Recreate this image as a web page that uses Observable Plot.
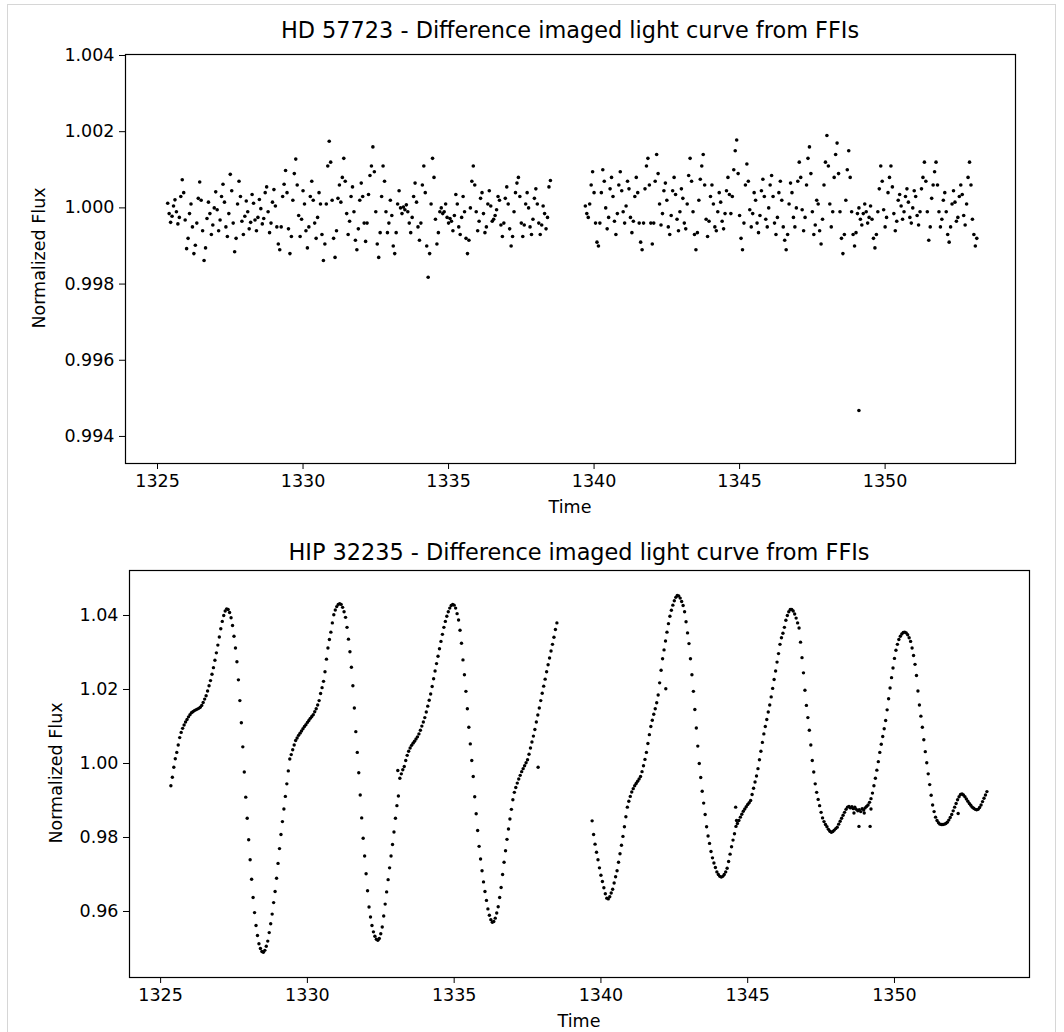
<!DOCTYPE html>
<html>
<head>
<meta charset="utf-8">
<script src="https://cdn.jsdelivr.net/npm/d3@7"></script>
<script src="https://cdn.jsdelivr.net/npm/@observablehq/plot@0.6"></script>
<style>
  body { margin: 0; background: #fff; }
  #wrap { position: relative; width: 1064px; height: 1032px; overflow: hidden; font-family: "DejaVu Sans", sans-serif; color: #000; background: #fff; }
  .border { position: absolute; left: 7px; top: 4px; width: 1049px; height: 1100px; border: 1px solid #d6d6d6; box-sizing: border-box; }
  .panel { position: absolute; left: 0; }
  .txt { position: absolute; white-space: nowrap; transform: translate(-50%, -50%); line-height: 1; }
  .title { font-size: 22.4px; }
  .lab { font-size: 17.5px; }
  .ylab { font-size: 17.5px; transform: translate(-50%, -50%) rotate(-90deg); }
</style>
</head>
<body>
<div id="wrap"><div class="border"></div></div>
<script>
// ---------------- DATA ----------------
const titles = ["HD 57723 - Difference imaged light curve from FFIs", "HIP 32235 - Difference imaged light curve from FFIs"];
const xLabel = "Time";
const yLabel = "Normalized Flux";
const xTicks = [1325, 1330, 1335, 1340, 1345, 1350];
const hdYTicks = [0.994, 0.996, 0.998, 1.000, 1.002, 1.004];
const hipYTicks = [0.96, 0.98, 1.00, 1.02, 1.04];

// FFI time stamps (sampled), orbit 1 and orbit 2
const time1 = [
1325.35,1325.40,1325.45,1325.50,1325.55,1325.60,1325.65,1325.70,1325.75,1325.80,1325.85,1325.90,1325.95,1326.00,1326.05,1326.10,1326.15,1326.20,1326.25,1326.30,
1326.35,1326.40,1326.45,1326.50,1326.55,1326.60,1326.65,1326.70,1326.75,1326.80,1326.85,1326.90,1326.95,1327.00,1327.05,1327.10,1327.15,1327.20,1327.25,1327.30,
1327.35,1327.40,1327.45,1327.50,1327.55,1327.60,1327.65,1327.70,1327.75,1327.80,1327.85,1327.90,1327.95,1328.00,1328.05,1328.10,1328.15,1328.20,1328.25,1328.30,
1328.35,1328.40,1328.45,1328.50,1328.55,1328.60,1328.65,1328.70,1328.75,1328.80,1328.85,1328.90,1328.95,1329.00,1329.05,1329.10,1329.15,1329.20,1329.25,1329.30,
1329.35,1329.40,1329.45,1329.50,1329.55,1329.60,1329.65,1329.70,1329.75,1329.80,1329.85,1329.90,1329.95,1330.00,1330.05,1330.10,1330.15,1330.20,1330.25,1330.30,
1330.35,1330.40,1330.45,1330.50,1330.55,1330.60,1330.65,1330.70,1330.75,1330.80,1330.85,1330.90,1330.95,1331.00,1331.05,1331.10,1331.15,1331.20,1331.25,1331.30,
1331.35,1331.40,1331.45,1331.50,1331.55,1331.60,1331.65,1331.70,1331.75,1331.80,1331.85,1331.90,1331.95,1332.00,1332.05,1332.10,1332.15,1332.20,1332.25,1332.30,
1332.35,1332.40,1332.45,1332.50,1332.55,1332.60,1332.65,1332.70,1332.75,1332.80,1332.85,1332.90,1332.95,1333.00,1333.05,1333.10,1333.15,1333.20,1333.25,1333.30,
1333.35,1333.40,1333.45,1333.50,1333.55,1333.60,1333.65,1333.70,1333.75,1333.80,1333.85,1333.90,1333.95,1334.00,1334.05,1334.10,1334.15,1334.20,1334.25,1334.30,
1334.35,1334.40,1334.45,1334.50,1334.55,1334.60,1334.65,1334.70,1334.75,1334.80,1334.85,1334.90,1334.95,1335.00,1335.05,1335.10,1335.15,1335.20,1335.25,1335.30,
1335.35,1335.40,1335.45,1335.50,1335.55,1335.60,1335.65,1335.70,1335.75,1335.80,1335.85,1335.90,1335.95,1336.00,1336.05,1336.10,1336.15,1336.20,1336.25,1336.30,
1336.35,1336.40,1336.45,1336.50,1336.55,1336.60,1336.65,1336.70,1336.75,1336.80,1336.85,1336.90,1336.95,1337.00,1337.05,1337.10,1337.15,1337.20,1337.25,1337.30,
1337.35,1337.40,1337.45,1337.50,1337.55,1337.60,1337.65,1337.70,1337.75,1337.80,1337.85,1337.90,1337.95,1338.00,1338.05,1338.10,1338.15,1338.20,1338.25,1338.30,
1338.35,1338.40,1338.45,1338.50
];
const time2 = [
1339.70,1339.75,1339.80,1339.85,1339.90,1339.95,1340.00,1340.05,1340.10,1340.15,1340.20,1340.25,1340.30,1340.35,1340.40,1340.45,1340.50,1340.55,1340.60,1340.65,
1340.70,1340.75,1340.80,1340.85,1340.90,1340.95,1341.00,1341.05,1341.10,1341.15,1341.20,1341.25,1341.30,1341.35,1341.40,1341.45,1341.50,1341.55,1341.60,1341.65,
1341.70,1341.75,1341.80,1341.85,1341.90,1341.95,1342.00,1342.05,1342.10,1342.15,1342.20,1342.25,1342.30,1342.35,1342.40,1342.45,1342.50,1342.55,1342.60,1342.65,
1342.70,1342.75,1342.80,1342.85,1342.90,1342.95,1343.00,1343.05,1343.10,1343.15,1343.20,1343.25,1343.30,1343.35,1343.40,1343.45,1343.50,1343.55,1343.60,1343.65,
1343.70,1343.75,1343.80,1343.85,1343.90,1343.95,1344.00,1344.05,1344.10,1344.15,1344.20,1344.25,1344.30,1344.35,1344.40,1344.45,1344.50,1344.55,1344.60,1344.65,
1344.70,1344.75,1344.80,1344.85,1344.90,1344.95,1345.00,1345.05,1345.10,1345.15,1345.20,1345.25,1345.30,1345.35,1345.40,1345.45,1345.50,1345.55,1345.60,1345.65,
1345.70,1345.75,1345.80,1345.85,1345.90,1345.95,1346.00,1346.05,1346.10,1346.15,1346.20,1346.25,1346.30,1346.35,1346.40,1346.45,1346.50,1346.55,1346.60,1346.65,
1346.70,1346.75,1346.80,1346.85,1346.90,1346.95,1347.00,1347.05,1347.10,1347.15,1347.20,1347.25,1347.30,1347.35,1347.40,1347.45,1347.50,1347.55,1347.60,1347.65,
1347.70,1347.75,1347.80,1347.85,1347.90,1347.95,1348.00,1348.05,1348.10,1348.15,1348.20,1348.25,1348.30,1348.35,1348.40,1348.45,1348.50,1348.55,1348.60,1348.65,
1348.70,1348.75,1348.80,1348.85,1348.90,1348.95,1349.00,1349.05,1349.10,1349.15,1349.20,1349.25,1349.30,1349.35,1349.40,1349.45,1349.50,1349.55,1349.60,1349.65,
1349.70,1349.75,1349.80,1349.85,1349.90,1349.95,1350.00,1350.05,1350.10,1350.15,1350.20,1350.25,1350.30,1350.35,1350.40,1350.45,1350.50,1350.55,1350.60,1350.65,
1350.70,1350.75,1350.80,1350.85,1350.90,1350.95,1351.00,1351.05,1351.10,1351.15,1351.20,1351.25,1351.30,1351.35,1351.40,1351.45,1351.50,1351.55,1351.60,1351.65,
1351.70,1351.75,1351.80,1351.85,1351.90,1351.95,1352.00,1352.05,1352.10,1352.15,1352.20,1352.25,1352.30,1352.35,1352.40,1352.45,1352.50,1352.55,1352.60,1352.65,
1352.70,1352.75,1352.80,1352.85,1352.90,1352.95,1353.00,1353.05,1353.10,1353.15
];

// HD 57723 normalized flux (read/estimated from the picture)
const hdFlux1 = [
1.00012,0.99985,0.99962,0.99978,1.00005,1.00021,0.99990,0.99958,0.99975,1.00030,1.00074,1.00040,0.99968,0.99893,0.99920,0.99985,1.00010,0.99950,0.99880,0.99902,
0.99960,1.00025,1.00068,1.00020,0.99940,0.99862,0.99895,0.99972,1.00015,0.99985,0.99930,0.99955,1.00000,1.00042,0.99995,0.99940,0.99968,1.00030,1.00062,1.00015,
0.99950,0.99925,0.99985,1.00088,1.00045,0.99960,0.99885,0.99920,1.00010,1.00070,1.00030,0.99965,0.99930,0.99978,1.00018,0.99990,0.99945,0.99962,1.00035,1.00012,
0.99968,0.99940,0.99975,1.00022,0.99998,0.99958,0.99972,1.00040,1.00055,0.99990,0.99935,0.99960,1.00015,1.00048,1.00005,0.99950,0.99905,0.99890,0.99950,1.00030,
1.00062,1.00098,1.00040,0.99945,0.99880,0.99925,1.00020,1.00090,1.00128,1.00060,0.99980,0.99925,0.99970,1.00045,1.00010,0.99940,0.99895,0.99950,1.00030,1.00070,
1.00020,0.99960,0.99920,0.99975,1.00040,1.00010,0.99930,0.99862,0.99905,1.00010,1.00110,1.00175,1.00120,1.00020,0.99920,0.99870,0.99940,1.00025,1.00060,1.00015,
1.00080,1.00130,1.00070,0.99985,0.99930,0.99965,1.00030,1.00055,0.99990,0.99915,0.99890,0.99945,1.00020,1.00065,1.00030,0.99960,0.99912,0.99960,1.00035,1.00085,
1.00110,1.00160,1.00095,0.99990,0.99905,0.99870,0.99935,1.00030,1.00110,1.00070,0.99990,0.99935,0.99960,1.00020,0.99980,0.99900,0.99880,0.99935,1.00010,1.00045,
1.00000,0.99985,1.00002,0.99995,1.00008,0.99990,0.99960,0.99935,0.99975,1.00030,1.00065,1.00015,0.99950,0.99915,0.99960,1.00060,1.00110,1.00040,0.99900,0.99818,
0.99880,1.00010,1.00130,1.00080,0.99970,0.99905,0.99935,0.99990,1.00000,0.99985,0.99990,1.00010,0.99975,0.99960,0.99972,0.99965,0.99940,0.99980,1.00035,1.00010,
0.99950,0.99930,0.99975,1.00030,0.99990,0.99920,0.99880,0.99915,1.00000,1.00070,1.00110,1.00060,0.99990,0.99940,0.99965,1.00025,1.00040,0.99985,0.99935,0.99950,
1.00010,1.00045,1.00005,0.99965,0.99970,0.99980,0.99995,1.00030,1.00020,0.99955,0.99925,0.99960,1.00025,1.00055,1.00010,0.99945,0.99900,0.99925,0.99990,1.00040,
1.00065,1.00080,1.00030,0.99960,0.99925,0.99955,1.00010,1.00040,1.00000,0.99950,0.99930,0.99970,1.00025,1.00050,1.00010,0.99960,0.99930,0.99955,1.00005,0.99985,
0.99945,0.99975,1.00055,1.00072
];
const hdFlux2 = [
1.00005,0.99985,0.99975,1.00010,1.00060,1.00095,1.00040,0.99960,0.99910,0.99900,0.99960,1.00040,1.00100,1.00070,1.00000,0.99945,0.99975,1.00050,1.00080,1.00030,
0.99965,0.99930,0.99985,1.00060,1.00095,1.00045,0.99990,0.99960,1.00005,1.00070,1.00050,0.99975,0.99935,0.99965,1.00030,1.00080,1.00040,0.99960,0.99910,0.99890,
0.99960,1.00050,1.00110,1.00130,1.00060,0.99960,0.99905,0.99960,1.00070,1.00140,1.00090,1.00010,0.99955,0.99985,1.00045,1.00065,1.00020,0.99950,0.99930,0.99980,
1.00045,1.00080,1.00035,0.99970,0.99940,0.99990,1.00050,1.00025,0.99960,0.99945,1.00010,1.00085,1.00130,1.00070,0.99990,0.99930,0.99890,0.99935,1.00020,1.00075,
1.00110,1.00140,1.00060,0.99970,0.99925,0.99965,1.00030,1.00060,1.00010,0.99950,0.99940,0.99990,1.00040,1.00015,0.99965,0.99945,0.99985,1.00045,1.00080,1.00035,
0.99985,1.00030,1.00100,1.00150,1.00178,1.00090,0.99980,0.99920,0.99890,0.99960,1.00060,1.00115,1.00070,0.99995,0.99950,0.99985,1.00040,1.00020,0.99960,0.99935,
0.99980,1.00045,1.00075,1.00030,0.99970,0.99950,1.00000,1.00060,1.00085,1.00030,0.99960,0.99930,0.99975,1.00040,1.00070,1.00020,0.99950,0.99915,0.99890,0.99930,
1.00010,1.00065,1.00040,0.99975,0.99950,1.00000,1.00070,1.00120,1.00080,0.99995,0.99940,0.99975,1.00060,1.00130,1.00160,1.00090,0.99990,0.99930,0.99955,1.00020,
1.00010,0.99940,0.99905,0.99970,1.00060,1.00120,1.00190,1.00110,1.00010,0.99950,0.99990,1.00080,1.00140,1.00170,1.00090,0.99990,0.99920,0.99880,0.99930,1.00020,
1.00100,1.00150,1.00080,0.99990,0.99930,0.99900,0.99935,0.99985,1.00000,0.99970,0.99955,0.99985,1.00010,0.99990,0.99960,0.99975,1.00005,0.99970,0.99920,0.99895,
0.99930,0.99990,1.00050,1.00110,1.00070,0.99995,0.99950,0.99975,1.00040,1.00080,1.00110,1.00055,0.99985,0.99940,0.99965,1.00020,1.00035,1.00005,0.99970,0.99990,
1.00030,1.00050,1.00015,0.99975,0.99960,1.00000,1.00045,1.00030,0.99980,0.99955,0.99990,1.00050,1.00080,1.00120,1.00070,0.99990,0.99915,0.99950,1.00025,1.00060,
1.00095,1.00120,1.00060,0.99990,0.99950,0.99970,1.00020,1.00040,0.99990,0.99930,0.99910,0.99950,1.00010,1.00045,1.00015,0.99965,0.99975,1.00030,1.00060,1.00035,
0.99980,0.99955,1.00010,1.00080,1.00120,1.00060,0.99970,0.99930,0.99900,0.99920
];
const hdOutlierTime = [1349.10];
const hdOutlierFlux = [0.99468];

// HIP 32235 normalized flux
const hipFlux1 = [
0.9940,0.9963,0.9990,1.0013,1.0030,1.0050,1.0070,1.0084,1.0095,1.0104,1.0112,1.0119,1.0126,1.0132,1.0137,1.0140,1.0143,1.0145,1.0147,1.0149,
1.0152,1.0157,1.0165,1.0174,1.0183,1.0196,1.0210,1.0224,1.0241,1.0259,1.0279,1.0299,1.0320,1.0342,1.0364,1.0384,1.0400,1.0412,1.0418,1.0416,
1.0408,1.0394,1.0373,1.0344,1.0312,1.0275,1.0226,1.0170,1.0110,1.0045,0.9977,0.9909,0.9852,0.9794,0.9740,0.9687,0.9638,0.9597,0.9562,0.9535,
0.9513,0.9500,0.9492,0.9490,0.9495,0.9506,0.9520,0.9543,0.9567,0.9593,0.9624,0.9654,0.9690,0.9730,0.9770,0.9808,0.9843,0.9877,0.9911,0.9945,
0.9980,1.0012,1.0024,1.0037,1.0050,1.0062,1.0069,1.0076,1.0082,1.0088,1.0094,1.0100,1.0105,1.0111,1.0116,1.0122,1.0127,1.0132,1.0140,1.0148,
1.0158,1.0170,1.0189,1.0205,1.0222,1.0248,1.0282,1.0312,1.0335,1.0355,1.0380,1.0402,1.0415,1.0424,1.0430,1.0432,1.0430,1.0422,1.0410,1.0395,
1.0368,1.0336,1.0302,1.0260,1.0210,1.0150,1.0086,1.0030,0.9975,0.9915,0.9853,0.9798,0.9750,0.9702,0.9656,0.9612,0.9585,0.9562,0.9545,0.9533,
0.9525,0.9522,0.9527,0.9540,0.9558,0.9588,0.9620,0.9653,0.9686,0.9718,0.9750,0.9781,0.9815,0.9852,0.9886,0.9912,0.9960,0.9972,0.9983,0.9992,
1.0008,1.0022,1.0033,1.0042,1.0049,1.0055,1.0060,1.0066,1.0072,1.0080,1.0090,1.0101,1.0112,1.0124,1.0139,1.0155,1.0171,1.0188,1.0208,1.0229,
1.0250,1.0270,1.0290,1.0310,1.0330,1.0349,1.0368,1.0384,1.0398,1.0410,1.0420,1.0427,1.0430,1.0428,1.0420,1.0405,1.0388,1.0360,1.0325,1.0280,
1.0240,1.0195,1.0148,1.0098,1.0053,1.0008,0.9965,0.9910,0.9864,0.9819,0.9776,0.9742,0.9710,0.9680,0.9654,0.9630,0.9607,0.9590,0.9578,0.9571,
0.9573,0.9582,0.9596,0.9613,0.9638,0.9665,0.9700,0.9733,0.9764,0.9795,0.9823,0.9850,0.9876,0.9902,0.9922,0.9935,0.9947,0.9958,0.9968,0.9978,
0.9986,0.9994,1.0002,1.0010,1.0025,1.0042,1.0058,1.0074,1.0092,1.0112,1.0131,1.0150,1.0170,1.0190,1.0209,1.0228,1.0248,1.0267,1.0285,1.0304,
1.0322,1.0341,1.0362,1.0380
];
const hipFlux2 = [
0.9845,0.9808,0.9782,0.9760,0.9740,0.9718,0.9698,0.9681,0.9664,0.9648,0.9636,0.9634,0.9640,0.9650,0.9660,0.9677,0.9694,0.9710,0.9733,0.9756,
0.9779,0.9803,0.9829,0.9856,0.9882,0.9898,0.9911,0.9923,0.9932,0.9940,0.9946,0.9952,0.9958,0.9965,0.9978,0.9994,1.0011,1.0030,1.0054,1.0078,
1.0100,1.0117,1.0133,1.0148,1.0164,1.0185,1.0218,1.0252,1.0283,1.0307,1.0331,1.0355,1.0378,1.0398,1.0414,1.0428,1.0440,1.0449,1.0454,1.0453,
1.0447,1.0438,1.0427,1.0410,1.0383,1.0353,1.0324,1.0283,1.0240,1.0195,1.0146,1.0096,1.0047,1.0000,0.9962,0.9925,0.9893,0.9862,0.9829,0.9804,
0.9784,0.9762,0.9745,0.9731,0.9719,0.9707,0.9700,0.9695,0.9693,0.9695,0.9700,0.9707,0.9717,0.9735,0.9755,0.9775,0.9793,0.9810,0.9830,0.9838,
0.9846,0.9855,0.9863,0.9871,0.9877,0.9883,0.9889,0.9894,0.9900,0.9916,0.9933,0.9950,0.9966,0.9986,1.0010,1.0033,1.0057,1.0080,1.0100,1.0119,
1.0139,1.0158,1.0180,1.0203,1.0227,1.0250,1.0274,1.0297,1.0322,1.0340,1.0352,1.0368,1.0387,1.0400,1.0410,1.0416,1.0416,1.0412,1.0404,1.0393,
1.0380,1.0366,1.0328,1.0286,1.0245,1.0198,1.0157,1.0124,1.0090,1.0050,1.0008,0.9977,0.9945,0.9922,0.9903,0.9886,0.9868,0.9853,0.9843,0.9835,
0.9829,0.9822,0.9817,0.9814,0.9816,0.9820,0.9824,0.9828,0.9836,0.9844,0.9852,0.9860,0.9868,0.9876,0.9882,0.9884,0.9880,0.9883,0.9878,0.9882,
0.9876,0.9872,0.9875,0.9870,0.9878,0.9874,0.9880,0.9884,0.9888,0.9895,0.9905,0.9920,0.9940,0.9960,0.9982,1.0005,1.0030,1.0052,1.0073,1.0094,
1.0116,1.0145,1.0175,1.0204,1.0232,1.0258,1.0284,1.0306,1.0322,1.0335,1.0344,1.0350,1.0354,1.0355,1.0353,1.0348,1.0340,1.0330,1.0312,1.0292,
1.0268,1.0238,1.0196,1.0158,1.0128,1.0098,1.0064,1.0032,1.0002,0.9972,0.9943,0.9914,0.9888,0.9870,0.9855,0.9846,0.9840,0.9836,0.9835,0.9835,
0.9836,0.9838,0.9841,0.9847,0.9854,0.9862,0.9872,0.9882,0.9892,0.9902,0.9910,0.9916,0.9918,0.9915,0.9910,0.9904,0.9898,0.9892,0.9887,0.9882,
0.9879,0.9876,0.9875,0.9876,0.9881,0.9888,0.9897,0.9906,0.9915,0.9924
];
const hipOutlierTime = [1333.08, 1337.86, 1342.21, 1344.59, 1344.62, 1348.62, 1348.79, 1348.97, 1349.17, 1349.20, 1352.17];
const hipOutlierFlux = [0.9981, 0.9990, 1.0202, 0.9882, 0.9846, 0.9866, 0.9830, 0.9866, 0.9830, 0.9877, 0.9865];

// ---------------- BUILD ----------------
function rows(times, fluxes) {
  const n = Math.min(times.length, fluxes.length);
  const out = [];
  for (let i = 0; i < n; i++) out.push({t: times[i], f: fluxes[i]});
  return out;
}
const hdData = [...rows(time1, hdFlux1), ...rows(time2, hdFlux2), ...rows(hdOutlierTime, hdOutlierFlux)];
const hipData = [...rows(time1, hipFlux1), ...rows(time2, hipFlux2), ...rows(hipOutlierTime, hipOutlierFlux)];

const wrap = document.getElementById("wrap");

function addText(cls, text, x, y) {
  const d = document.createElement("div");
  d.className = "txt " + cls;
  d.textContent = text;
  d.style.left = x + "px";
  d.style.top = y + "px";
  wrap.appendChild(d);
}

function panel({data, top, height, mL, mR, mT, mB, xDomain, yDomain, yTicks, yFmt, r}) {
  const chart = Plot.plot({
    width: 1064,
    height,
    marginLeft: mL, marginRight: mR, marginTop: mT, marginBottom: mB,
    style: {fontFamily: "DejaVu Sans, sans-serif", fontSize: "17.5px", color: "#000", background: "transparent", overflow: "visible"},
    x: {domain: xDomain, ticks: xTicks, tickFormat: d => String(d), tickSize: 6, tickPadding: 5, label: null},
    y: {domain: yDomain, ticks: yTicks, tickFormat: yFmt, tickSize: 6, tickPadding: 5, label: null},
    marks: [
      Plot.dot(data, {x: "t", y: "f", r, fill: "#000", stroke: "none"}),
      Plot.frame({stroke: "#000", strokeWidth: 1.2})
    ]
  });
  const holder = document.createElement("div");
  holder.className = "panel";
  holder.style.top = top + "px";
  holder.appendChild(chart);
  wrap.appendChild(holder);
}

// Top panel: HD 57723
panel({data: hdData, top: 0, height: 530, mL: 125, mR: 49, mT: 54, mB: 67, r: 1.8,
  xDomain: [1323.9, 1354.48], yDomain: [0.99329, 1.004026], yTicks: hdYTicks, yFmt: d3.format(".3f")});
// Bottom panel: HIP 32235
panel({data: hipData, top: 530, height: 502, mL: 129, mR: 35, mT: 40, mB: 55, r: 1.7,
  xDomain: [1323.94, 1354.6], yDomain: [0.94216, 1.05216], yTicks: hipYTicks, yFmt: d3.format(".2f")});

addText("title", titles[0], 570, 30);
addText("title", titles[1], 579, 552);
addText("lab", xLabel, 570, 508);
addText("lab", xLabel, 579, 1022);
addText("ylab", yLabel, 40, 258);
addText("ylab", yLabel, 57, 773);
</script>
</body>
</html>
